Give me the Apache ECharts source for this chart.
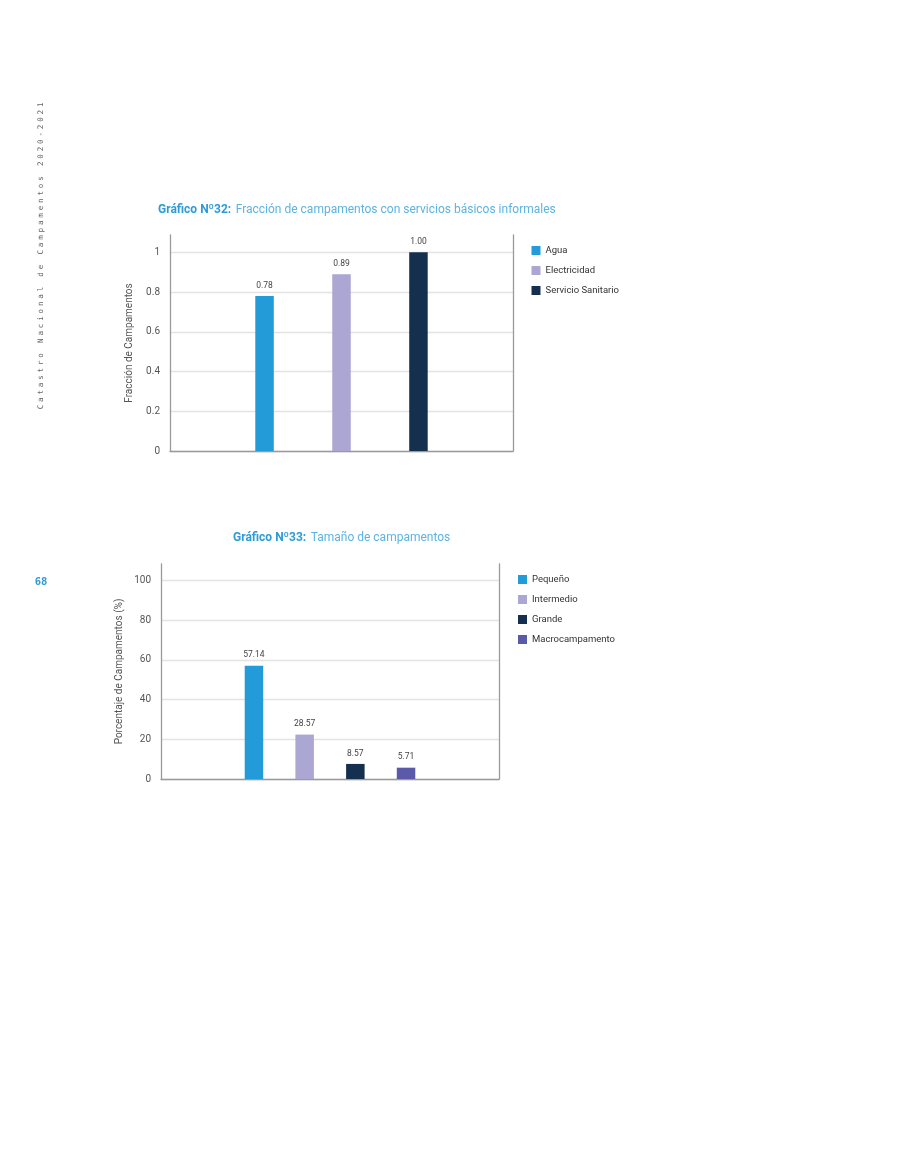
<!DOCTYPE html>
<html>
<head>
<meta charset="utf-8">
<script src="https://cdn.jsdelivr.net/npm/echarts@6/dist/echarts.min.js"></script>
<style>
  html, body { margin: 0; padding: 0; background: #fff; }
  #chart { width: 900px; height: 1165px; }
</style>
</head>
<body>
<div id="chart"></div>
<script>
// Gráfico Nº32
var serviciosNombres = ["Agua", "Electricidad", "Servicio Sanitario"];
var serviciosValores = [0.78, 0.89, 1.0];
var serviciosColores = ["#229bd8", "#aca6d3", "#15304f"];

// Gráfico Nº33 (alturas tal como se dibujan, etiquetas tal como se leen)
var tamanoNombres = ["Pequeño", "Intermedio", "Grande", "Macrocampamento"];
var tamanoValores = [57.14, 22.4, 7.6, 5.71];
var tamanoEtiquetas = ["57.14", "28.57", "8.57", "5.71"];
var tamanoColores = ["#229bd8", "#aca6d3", "#15304f", "#5b5aa8"];

var textoLateral = "Catastro Nacional de Campamentos 2020-2021";

var fuente = "Roboto";
var gris = "#555";
var grilla = "#e3e3e3";
var eje = "#9a9a9a";

function lineasGrilla(n) {
  var c = [];
  for (var i = 0; i < n; i++) c.push(grilla);
  c.push("rgba(0,0,0,0)");
  return c;
}

var myChart = echarts.init(document.getElementById("chart"));

var series = [];
serviciosNombres.forEach(function (nombre, i) {
  series.push({
    name: nombre,
    type: "bar",
    xAxisIndex: 0,
    yAxisIndex: 0,
    data: [serviciosValores[i]],
    barWidth: 18.5,
    barGap: "316%",
    itemStyle: { color: serviciosColores[i] },
    label: {
      show: true,
      position: "top",
      distance: 6,
      fontFamily: fuente,
      fontSize: 8.5,
      color: "#444",
      formatter: function (p) { return p.value.toFixed(2); },
    },
  });
});
tamanoNombres.forEach(function (nombre, i) {
  series.push({
    name: nombre,
    type: "bar",
    xAxisIndex: 1,
    yAxisIndex: 2,
    data: [tamanoValores[i]],
    barWidth: 18.5,
    barGap: "174%",
    itemStyle: { color: tamanoColores[i] },
    label: {
      show: true,
      position: "top",
      distance: 6,
      fontFamily: fuente,
      fontSize: 8.5,
      color: "#444",
      formatter: tamanoEtiquetas[i],
    },
  });
});

function ejeY(grid, max, interval, nombre, nameGap, lineas) {
  return [
    {
      type: "value",
      gridIndex: grid,
      min: 0,
      max: max,
      interval: interval,
      name: nombre,
      nameLocation: "middle",
      nameGap: nameGap,
      nameTextStyle: { fontFamily: fuente, fontSize: 10, color: gris },
      axisLine: { show: true, lineStyle: { color: eje, width: 1.3 } },
      axisTick: { show: false },
      axisLabel: {
        margin: 10,
        fontFamily: fuente,
        fontSize: 10,
        color: gris,
        showMaxLabel: false,
      },
      splitLine: { show: true, lineStyle: { color: lineasGrilla(lineas), width: 1.3 } },
    },
    {
      type: "value",
      gridIndex: grid,
      position: "right",
      min: 0,
      max: max,
      interval: interval,
      axisLine: { show: true, lineStyle: { color: eje, width: 1.3 } },
      axisTick: { show: false },
      axisLabel: { show: false },
      splitLine: { show: false },
    },
  ];
}

function ejeX(grid) {
  return {
    type: "category",
    gridIndex: grid,
    data: [""],
    axisLine: { show: true, lineStyle: { color: eje, width: 1.3 } },
    axisTick: { show: false },
    axisLabel: { show: false },
  };
}

var estiloTitulo = {
  rich: {
    b: { fontFamily: fuente, fontSize: 12, fontWeight: "bold", color: "#2e9bd6", lineHeight: 14 },
    r: { fontFamily: fuente, fontSize: 12, fontWeight: "normal", color: "#5db3e2", lineHeight: 14 },
  },
};

// texto lateral espaciado letra por letra
var letras = textoLateral.split("").map(function (ch, i) {
  return {
    type: "text",
    x: i * 7.37,
    y: 0,
    style: {
      text: ch,
      fontFamily: "DejaVu Sans Mono",
      fontSize: 7.6,
      fill: "#666",
      align: "center",
      verticalAlign: "middle",
    },
  };
});

myChart.setOption({
  animation: false,
  textStyle: { fontFamily: fuente },
  title: [
    {
      left: 158,
      top: 200.5,
      padding: 0,
      text: "{b|Gráfico Nº32:} {r|Fracción de campamentos con servicios básicos informales}",
      textStyle: estiloTitulo,
    },
    {
      left: 233,
      top: 529,
      padding: 0,
      text: "{b|Gráfico Nº33:} {r|Tamaño de campamentos}",
      textStyle: estiloTitulo,
    },
  ],
  legend: [
    {
      data: serviciosNombres,
      orient: "vertical",
      left: 531.5,
      top: 245.5,
      padding: 0,
      icon: "rect",
      itemWidth: 9,
      itemHeight: 9,
      itemGap: 10,
      textStyle: { fontFamily: fuente, fontSize: 9.5, color: "#333", lineHeight: 10 },
    },
    {
      data: tamanoNombres,
      orient: "vertical",
      left: 518,
      top: 574.5,
      padding: 0,
      icon: "rect",
      itemWidth: 9,
      itemHeight: 9,
      itemGap: 10,
      textStyle: { fontFamily: fuente, fontSize: 9.5, color: "#333", lineHeight: 10 },
    },
  ],
  grid: [
    { left: 170, right: 387, top: 235, height: 216 },
    { left: 161, right: 401, top: 564, height: 215 },
  ],
  xAxis: [ejeX(0), ejeX(1)],
  yAxis: ejeY(0, 1.087, 0.2, "Fracción de Campamentos", 36, 6).concat(
    ejeY(1, 108.4, 20, "Porcentaje de Campamentos (%)", 37, 6)
  ),
  graphic: [
    {
      type: "group",
      x: 41,
      y: 407,
      rotation: Math.PI / 2,
      children: letras,
    },
    {
      type: "text",
      x: 41,
      y: 582,
      style: {
        text: "68",
        fontFamily: "DejaVu Sans Mono",
        fontSize: 10.5,
        fontWeight: "bold",
        fill: "#2e9bd6",
        align: "center",
        verticalAlign: "middle",
      },
    },
  ],
  series: series,
});
</script>
</body>
</html>
